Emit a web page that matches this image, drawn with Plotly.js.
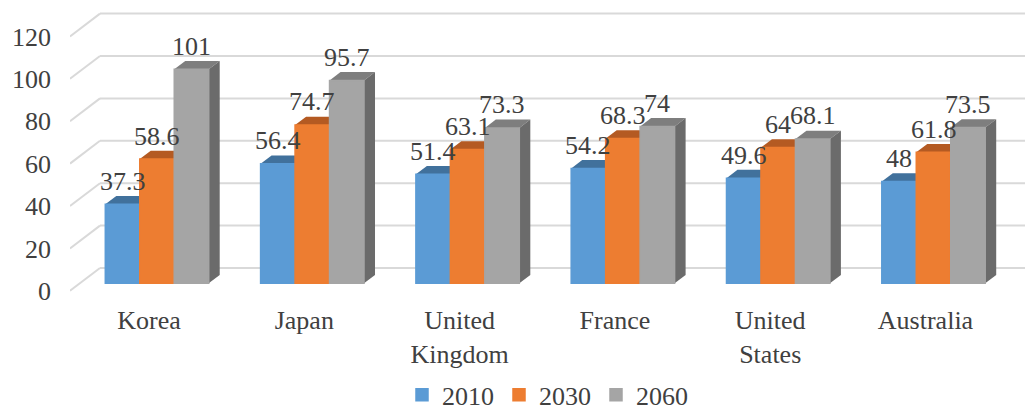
<!DOCTYPE html>
<html>
<head>
<meta charset="utf-8">
<script src="https://cdn.plot.ly/plotly-3.0.1.min.js"></script>
<style>html,body{margin:0;padding:0;background:#fff;}#chart{width:1025px;height:410px;}</style>
</head>
<body>
<div id="chart"></div>
<script>
// ---- data ----
const categories = ['Korea', 'Japan', 'United<br>Kingdom', 'France', 'United<br>States', 'Australia'];
const seriesNames = ['2010', '2030', '2060'];
const v2010 = [37.3, 56.4, 51.4, 54.2, 49.6, 48];
const v2030 = [58.6, 74.7, 63.1, 68.3, 64, 61.8];
const v2060 = [101, 95.7, 73.3, 74, 68.1, 73.5];
const yTicks = [0, 20, 40, 60, 80, 100, 120];

// ---- styles ----
const frontColors = ['#5B9BD5', '#ED7D31', '#A5A5A5'];
const topColors = ['#41719C', '#B45A22', '#7E7E7E'];
const sideColors = ['#3E6A93', '#A9531D', '#6B6B6B'];
const FONT = 'Liberation Serif, Times New Roman, serif';
const TXT = '#404040';

// ---- geometry (pixel calibration of the pseudo-3D frame) ----
const W = 1025, H = 410;
const mL = 70, mR = 0, mT = 6, mB = 110;
const k = 2.12;            // px per value unit
const basePx = 283.3;      // pixel of bar base
const pxTop = mT, pxBot = H - mB;
const yRange = [(basePx - pxBot) / k, (basePx - pxTop) / k];
const frontOff = (290.8 - basePx) / k;   // front plane (labels) offset
const backOff = (basePx - 268) / k;      // back wall offset
const catPx = 157, catStep = 155.3;
const xRange = [(mL - catPx) / catStep, (W - mR - catPx) / catStep];
const labelShift = 8 / catStep;
const xBack = (100 - catPx) / catStep;
const bargap = 0.334;
const w = (1 - bargap) / 3;
const dx = 11 / catStep, dy = 8.3 / k;

const idx = categories.map((_, i) => i);
const all = [v2010, v2030, v2060];

const traces = all.map((vals, s) => ({
  type: 'bar', name: seriesNames[s], x: idx, y: vals,
  marker: {color: frontColors[s], line: {width: 1.5, color: frontColors[s]}},
  hoverinfo: 'skip'
}));

const shapes = [];
// gridlines: diagonals + back wall
yTicks.forEach(v => {
  shapes.push({type: 'line', layer: 'below', xref: 'x', yref: 'y',
    x0: xRange[0], y0: v - frontOff, x1: xBack, y1: v + backOff,
    line: {color: '#D9D9D9', width: 2}});
  shapes.push({type: 'line', layer: 'below', xref: 'x', yref: 'y',
    x0: xBack, y0: v + backOff, x1: xRange[1], y1: v + backOff,
    line: {color: '#D9D9D9', width: 2}});
});
// top and side faces
const annotations = [];
idx.forEach(i => {
  all.forEach((vals, s) => {
    const v = vals[i];
    const x0 = i + (s - 1.5) * w, x1 = x0 + w;
    shapes.push({type: 'path', layer: 'below', xref: 'x', yref: 'y',
      path: `M${x0},${v} L${x1},${v} L${x1 + dx},${v + dy} L${x0 + dx},${v + dy} Z`,
      fillcolor: topColors[s], line: {width: 0}});
    shapes.push({type: 'path', layer: 'below', xref: 'x', yref: 'y',
      path: `M${x1},0 L${x1},${v} L${x1 + dx},${v + dy} L${x1 + dx},${dy} Z`,
      fillcolor: sideColors[s], line: {width: 0}});
    annotations.push({xref: 'x', yref: 'y', x: x0 + w / 2, y: v, text: String(v),
      showarrow: false, yanchor: 'middle', xanchor: 'center', yshift: 23,
      font: {family: FONT, size: 26, color: TXT}});
  });
});

const layout = {
  width: W, height: H,
  margin: {l: mL, r: mR, t: mT, b: mB, pad: 0, autoexpand: false},
  paper_bgcolor: '#fff', plot_bgcolor: 'rgba(0,0,0,0)',
  font: {family: FONT, size: 26, color: TXT},
  barmode: 'group', bargap: bargap, bargroupgap: 0,
  showlegend: true,
  legend: {orientation: 'h', x: 0.5, xanchor: 'center', y: -0.323, yanchor: 'middle',
    font: {family: FONT, size: 26, color: TXT}, traceorder: 'normal'},
  xaxis: {type: 'linear', range: xRange, showgrid: false, zeroline: false,
    showticklabels: false, showline: false, fixedrange: true, automargin: false},
  yaxis: {range: yRange, showgrid: false, zeroline: false, showticklabels: false,
    showline: false, fixedrange: true, automargin: false},
  xaxis2: {type: 'linear', overlaying: 'x', anchor: 'y', side: 'bottom',
    range: [xRange[0] + labelShift, xRange[1] + labelShift],
    tickmode: 'array', tickvals: idx, ticktext: categories, automargin: false,
    showgrid: false, zeroline: false, showline: false, ticks: '',
    ticklabelstandoff: 2,
    tickfont: {family: FONT, size: 26, color: TXT}},
  yaxis2: {overlaying: 'y', anchor: 'x', side: 'left', automargin: false,
    range: [yRange[0] + frontOff, yRange[1] + frontOff],
    tickmode: 'array', tickvals: yTicks, ticktext: yTicks.map(String),
    showgrid: false, zeroline: false, showline: false, ticks: '',
    ticklabelstandoff: 18,
    tickfont: {family: FONT, size: 26, color: TXT}},
  shapes: shapes,
  annotations: annotations
};

// invisible helper traces bind the overlay axes
traces.push({type: 'scatter', x: [], y: [], xaxis: 'x2', yaxis: 'y2', showlegend: false, hoverinfo: 'skip'});

Plotly.newPlot('chart', traces, layout, {staticPlot: true, displayModeBar: false});
</script>
</body>
</html>
